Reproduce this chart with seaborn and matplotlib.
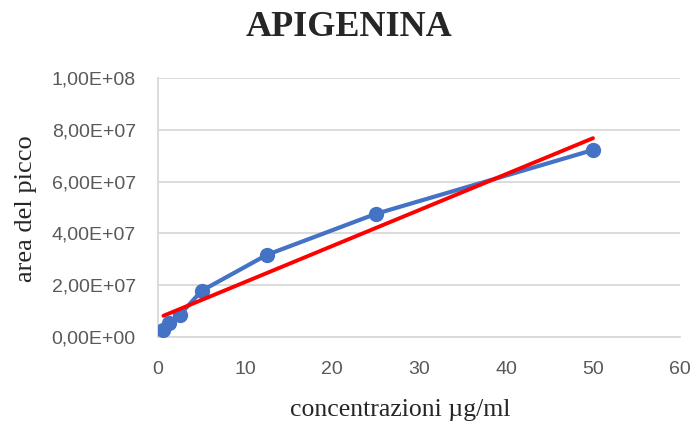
import numpy as np
import pandas as pd
import matplotlib
matplotlib.use("Agg")
import matplotlib.pyplot as plt
import seaborn as sns
from matplotlib.ticker import FuncFormatter

# Calibration data for apigenin
concentrazioni = [0.625, 1.25, 2.5, 5, 12.5, 25, 50]
area = [2.7e6, 5.4e6, 8.5e6, 1.78e7, 3.17e7, 4.75e7, 7.22e7]
x_ticks = [0, 10, 20, 30, 40, 50, 60]
y_ticks = [0, 2e7, 4e7, 6e7, 8e7, 1e8]

df = pd.DataFrame({"conc": concentrazioni, "area": area})

sns.set_style("white")
W, H = 697, 424
fig = plt.figure(figsize=(W / 100, H / 100), dpi=100)
ax = fig.add_axes([158 / W, 1 - 337 / H, 522 / W, 259 / H])

tick_font = "Liberation Sans"
serif = "Liberation Serif"

# measured series
sns.lineplot(data=df, x="conc", y="area", ax=ax, color="#4472C4", linewidth=3,
             marker="o", markersize=11, markeredgewidth=0, zorder=3)

# linear trendline over the data range
slope, intercept = np.polyfit(df["conc"], df["area"], 1)
xs = np.array([df["conc"].min(), df["conc"].max()])
sns.lineplot(x=xs, y=slope * xs + intercept, ax=ax, color="#FF0000",
             linewidth=2.8, zorder=4)

ax.set_xlim(0, 60)
ax.set_ylim(0, 1e8)
ax.set_xticks(x_ticks)
ax.set_yticks(y_ticks)


def sci_it(v, pos):
    return f"{v:.2E}".replace(".", ",")


ax.yaxis.set_major_formatter(FuncFormatter(sci_it))
ax.grid(axis="y", color="#D9D9D9", linewidth=1.3)
ax.grid(axis="x", visible=False)
for side in ("top", "right"):
    ax.spines[side].set_visible(False)
for side in ("left", "bottom"):
    ax.spines[side].set_color("#D9D9D9")
    ax.spines[side].set_linewidth(1.3)
ax.tick_params(axis="both", length=0, labelsize=14, labelcolor="#595959")
ax.tick_params(axis="x", pad=17)
ax.tick_params(axis="y", pad=16)
for lbl in ax.get_xticklabels() + ax.get_yticklabels():
    lbl.set_fontfamily(tick_font)

ax.set_xlabel("")
ax.set_ylabel("")
fig.text(400 / W, 1 - 416 / H, "concentrazioni µg/ml", ha="center", va="baseline",
         fontfamily=serif, fontsize=18.5)
fig.text(26 / W, 1 - 209 / H, "area del picco", ha="center", va="center",
         rotation=90, fontfamily=serif, fontsize=19)
fig.text(0.5, 1 - 36 / H, "APIGENINA", ha="center", va="baseline",
         fontfamily=serif, fontweight="bold", fontsize=26)

fig.savefig("out.png", dpi=100)
